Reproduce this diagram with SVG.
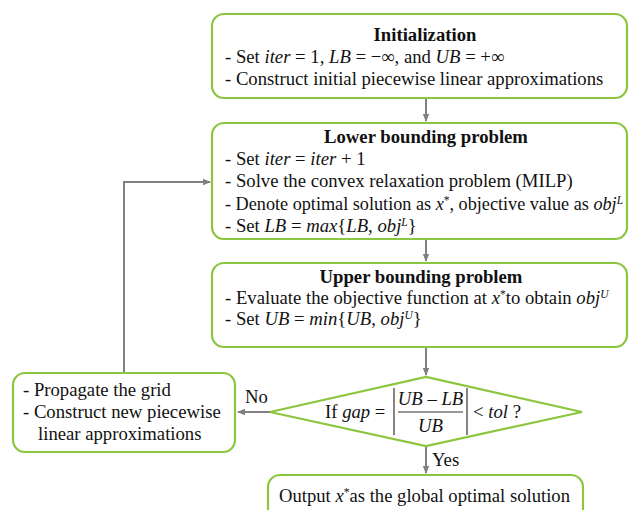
<svg xmlns="http://www.w3.org/2000/svg" width="629" height="510" viewBox="0 0 629 510">
<style>
.box{fill:#fff;stroke:#8cc63f;stroke-width:2.2}
.t{font-family:"Liberation Serif","Times New Roman",serif;font-size:18.7px;fill:#111}
.b{font-weight:bold}
.i{font-style:italic}
.c{stroke:#808080;stroke-width:2;fill:none}
.s{font-size:11.5px}
</style>
<defs>
<marker id="ah" markerWidth="8" markerHeight="8" refX="7" refY="4" orient="auto" markerUnits="userSpaceOnUse">
<path d="M0,0.8 L8,4 L0,7.2 Z" fill="#808080"/>
</marker>
</defs>
<rect width="629" height="510" fill="#fff"/>
<g id="connectors">
<path class="c" d="M426,99 V121" marker-end="url(#ah)"/>
<path class="c" d="M426,240 V261" marker-end="url(#ah)"/>
<path class="c" d="M426,348 V375" marker-end="url(#ah)"/>
<path class="c" d="M426,447 V473" marker-end="url(#ah)"/>
<path class="c" d="M270,412 H238" marker-end="url(#ah)"/>
<path class="c" d="M124,372 V182 H210" marker-end="url(#ah)"/>
<text class="t" x="245" y="403">No</text>
<text class="t" x="432" y="466">Yes</text>
</g>
<g id="init">
<rect class="box" x="212" y="14" width="415" height="84" rx="12"/>
<text class="t b" x="425" y="41" text-anchor="middle">Initialization</text>
<text class="t" x="225" y="63">- Set <tspan class="i">iter</tspan> = 1, <tspan class="i">LB</tspan> = −∞, and <tspan class="i">UB</tspan> = +∞</text>
<text class="t" x="225" y="85">- Construct initial piecewise linear approximations</text>
</g>
<g id="lower">
<rect class="box" x="212" y="123" width="415" height="116" rx="12"/>
<text class="t b" x="426" y="143" text-anchor="middle">Lower bounding problem</text>
<text class="t" x="225" y="165">- Set <tspan class="i">iter</tspan> = <tspan class="i">iter</tspan> + 1</text>
<text class="t" x="225" y="187">- Solve the convex relaxation problem (MILP)</text>
<text class="t" x="225" y="210" style="font-size:18.2px">- Denote optimal solution as <tspan class="i">x</tspan><tspan class="s" dy="-6">*</tspan><tspan dy="6">, objective value as </tspan><tspan class="i">obj</tspan><tspan class="i s" dy="-6">L</tspan></text>
<text class="t" x="225" y="232">- Set <tspan class="i">LB</tspan> = <tspan class="i">max</tspan>{<tspan class="i">LB</tspan>, <tspan class="i">obj</tspan><tspan class="i s" dy="-6">L</tspan><tspan dy="6">}</tspan></text>
</g>
<g id="upper">
<rect class="box" x="212" y="263" width="415" height="84" rx="12"/>
<text class="t b" x="421" y="283" text-anchor="middle">Upper bounding problem</text>
<text class="t" x="225" y="304">- Evaluate the objective function at <tspan class="i">x</tspan><tspan class="s" dy="-6">*</tspan><tspan dy="6">to obtain </tspan><tspan class="i">obj</tspan><tspan class="i s" dy="-6">U</tspan></text>
<text class="t" x="225" y="325">- Set <tspan class="i">UB</tspan> = <tspan class="i">min</tspan>{<tspan class="i">UB</tspan>, <tspan class="i">obj</tspan><tspan class="i s" dy="-6">U</tspan><tspan dy="6">}</tspan></text>
</g>
<g id="decision">
<polygon class="box" points="270,412 426,377 582,412 426,446"/>
<text class="t" x="325" y="418">If <tspan class="i">gap</tspan> =</text>
<line x1="394" y1="388" x2="394" y2="435" stroke="#333" stroke-width="1.2"/>
<line x1="467" y1="388" x2="467" y2="435" stroke="#333" stroke-width="1.2"/>
<text class="t" x="430.5" y="405" text-anchor="middle"><tspan class="i">UB</tspan> – <tspan class="i">LB</tspan></text>
<line x1="398" y1="412" x2="463" y2="412" stroke="#333" stroke-width="1"/>
<text class="t i" x="430.5" y="432" text-anchor="middle">UB</text>
<text class="t" x="473" y="418">&lt; <tspan class="i">tol</tspan> ?</text>
</g>
<g id="propagate">
<rect class="box" x="13" y="373" width="222" height="79" rx="12"/>
<text class="t" x="23" y="396">- Propagate the grid</text>
<text class="t" x="23" y="418">- Construct new piecewise</text>
<text class="t" x="38" y="440">linear approximations</text>
</g>
<g id="output">
<rect class="box" x="268" y="475" width="315" height="60" rx="12"/>
<text class="t" x="279" y="502" textLength="291" lengthAdjust="spacingAndGlyphs">Output <tspan class="i">x</tspan><tspan class="s" dy="-6">*</tspan><tspan dy="6">as the global optimal solution</tspan></text>
</g>
</svg>
